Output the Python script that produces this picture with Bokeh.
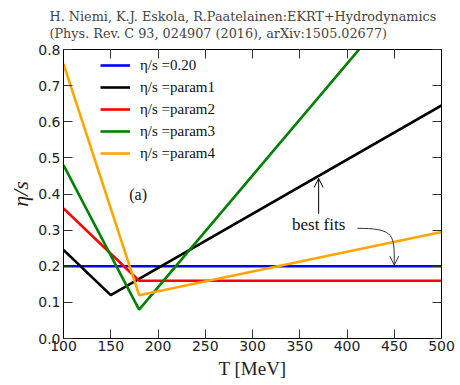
from bokeh.plotting import figure
from bokeh.models import (Range1d, FixedTicker, PrintfTickFormatter, LinearAxis, Label,
                          Arrow, OpenHead, Legend, LegendItem)
from bokeh.embed import file_html
from bokeh.resources import INLINE

# Data
T_const = [100, 500]
eta_const = [0.20, 0.20]
T_p1 = [100, 150, 500]
eta_p1 = [0.245, 0.12, 0.645]
T_p2 = [100, 180, 500]
eta_p2 = [0.36, 0.16, 0.16]
T_p3 = [100, 180, 500]
eta_p3 = [0.48, 0.08, 1.07]
T_p4 = [100, 180, 500]
eta_p4 = [0.76, 0.12, 0.295]

series = [
    ("η/s =0.20", T_const, eta_const, "#0000ff"),
    ("η/s =param1", T_p1, eta_p1, "#000000"),
    ("η/s =param2", T_p2, eta_p2, "#ff0000"),
    ("η/s =param3", T_p3, eta_p3, "#008000"),
    ("η/s =param4", T_p4, eta_p4, "#ffa500"),
]
x_ticks = [100, 150, 200, 250, 300, 350, 400, 450, 500]
y_ticks = [0.0, 0.1, 0.2, 0.3, 0.4, 0.5, 0.6, 0.7, 0.8]
title_text = ("H. Niemi, K.J. Eskola, R.Paatelainen:EKRT+Hydrodynamics\n"
              "(Phys. Rev. C 93, 024907 (2016), arXiv:1505.02677)")

p = figure(width=460, height=385, output_backend="svg", toolbar_location=None,
           x_range=Range1d(100, 500), y_range=Range1d(0, 0.8),
           min_border_left=63, min_border_right=19, min_border_top=49, min_border_bottom=47)
p.grid.visible = False
p.outline_line_color = "black"
p.outline_line_width = 1
p.background_fill_color = "white"
p.border_fill_color = "white"

p.title.text = title_text
p.title.text_font = "DejaVu Serif"
p.title.text_font_size = "12.8px"
p.title.text_font_style = "normal"
p.title.text_color = "#444444"
p.title.text_line_height = 1.15
p.title.align = "left"
p.title.vertical_align = "top"
p.title.offset = -14
p.title.standoff = 14

items = []
for name, xs, ys, col in series:
    r = p.line(xs, ys, line_color=col, line_width=2.6)
    items.append(LegendItem(label=name, renderers=[r]))

legend = Legend(items=items, location=(37, 175), border_line_alpha=0,
                background_fill_alpha=0, padding=0, margin=0, spacing=2,
                glyph_width=30, glyph_height=20, label_height=20, label_standoff=10,
                label_text_font="Liberation Serif", label_text_font_size="15px",
                label_text_color="#111111")
p.add_layout(legend, "center")

def style_axis(ax, labels=True):
    ax.major_tick_in = 9
    ax.major_tick_out = 0
    ax.minor_tick_in = 0
    ax.minor_tick_out = 0
    ax.axis_line_color = "black"
    ax.major_tick_line_color = "#333333"
    ax.major_label_text_font = "DejaVu Sans"
    ax.major_label_text_font_size = "14px"
    ax.major_label_text_color = "#222222"
    if not labels:
        ax.major_label_overrides = {t: "" for t in ax.ticker.ticks}
        ax.major_label_standoff = 0

p.xaxis.ticker = FixedTicker(ticks=x_ticks)
p.yaxis.ticker = FixedTicker(ticks=y_ticks)
p.yaxis.formatter = PrintfTickFormatter(format="%.1f")
style_axis(p.xaxis[0])
style_axis(p.yaxis[0])
p.xaxis.major_label_standoff = 2
p.yaxis.major_label_standoff = 3
p.yaxis.axis_label = "η/s"
p.yaxis.axis_label_text_font = "Liberation Serif"
p.yaxis.axis_label_text_font_style = "italic"
p.yaxis.axis_label_text_font_size = "22px"
p.yaxis.axis_label_text_color = "#222222"
p.yaxis.axis_label_standoff = 2
p.xaxis.axis_label = "T [MeV]"
p.xaxis.axis_label_text_font = "Liberation Serif"
p.xaxis.axis_label_text_font_style = "normal"
p.xaxis.axis_label_text_font_size = "19px"
p.xaxis.axis_label_text_color = "#222222"
p.xaxis.axis_label_standoff = 4

top = LinearAxis(ticker=FixedTicker(ticks=x_ticks))
style_axis(top, labels=False)
p.add_layout(top, "above")
right = LinearAxis(ticker=FixedTicker(ticks=y_ticks))
style_axis(right, labels=False)
p.add_layout(right, "right")

# panel label and annotations
p.add_layout(Label(x=179, y=0.40, text="(a)", text_font="Liberation Serif",
                   text_font_size="16px", text_baseline="middle", text_align="center",
                   text_color="#111111"))
p.add_layout(Label(x=370, y=0.316, text="best fits", text_font="Liberation Serif",
                   text_font_size="17px", text_baseline="middle", text_align="center",
                   text_color="#111111"))
p.add_layout(Arrow(end=OpenHead(size=9, line_width=1, line_color="black"),
                   x_start=370, y_start=0.345, x_end=370, y_end=0.443,
                   line_color="black", line_width=1))
p.bezier(x0=[411], y0=[0.305], x1=[450], y1=[0.225], cx0=[447], cy0=[0.305],
         cx1=[450], cy1=[0.29], line_color="#333333", line_width=1)
p.add_layout(Arrow(end=OpenHead(size=9, line_width=1, line_color="#333333"),
                   x_start=450, y_start=0.226, x_end=450, y_end=0.203,
                   line_color="#333333", line_width=1))

open("out.html", "w").write(file_html(p, INLINE))
